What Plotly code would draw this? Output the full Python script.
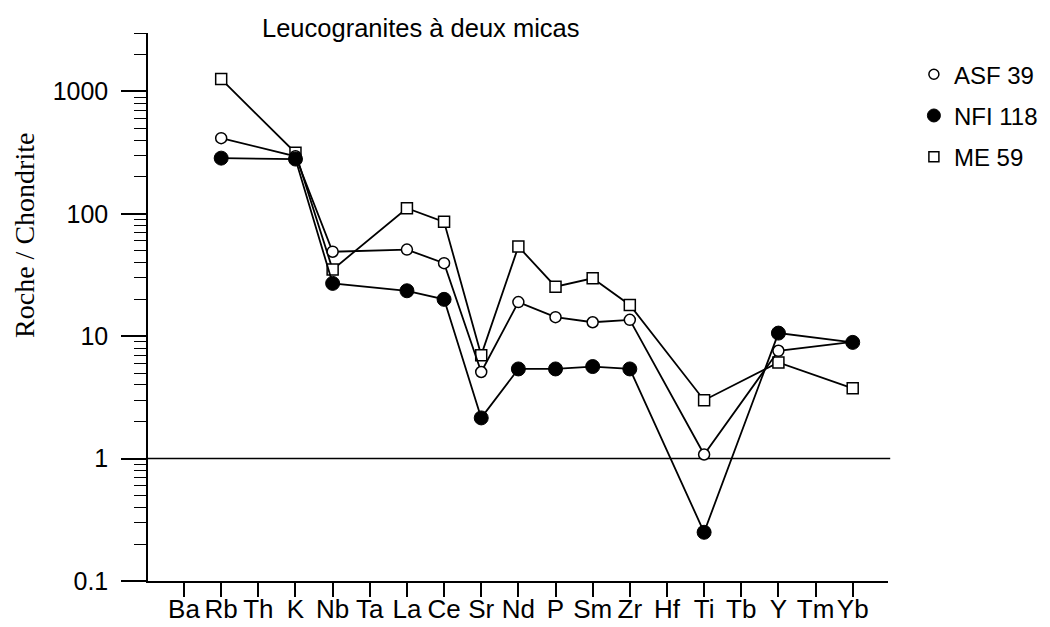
import math
import plotly.graph_objects as go

# Spider diagram: rock / chondrite normalised abundances
ELEMENTS = ["Ba", "Rb", "Th", "K", "Nb", "Ta", "La", "Ce", "Sr", "Nd",
            "P", "Sm", "Zr", "Hf", "Ti", "Tb", "Y", "Tm", "Yb"]

ASF_39 = [None, 415, None, 295, 49, None, 51, 39.5, 5.1, 19,
          14.3, 13.0, 13.6, None, 1.08, None, 7.6, None, 9.0]
NFI_118 = [None, 285, None, 280, 27, None, 23.5, 20, 2.15, 5.4,
           5.4, 5.65, 5.4, None, 0.25, None, 10.6, None, 8.9]
ME_59 = [None, 1260, None, 315, 35, None, 111, 86, 7.0, 54,
         25.4, 29.7, 18.0, None, 3.0, None, 6.1, None, 3.75]

Y_TICKS = [0.1, 1, 10, 100, 1000]
Y_TICK_TEXT = ["0.1", "1", "10", "100", "1000"]
Y_MIN = 0.1
Y_MAX = 3000
REF_LEVEL = 1  # chondritic reference level

SANS = "Liberation Sans, Arial, Helvetica, sans-serif"
SERIF = "Liberation Serif, Times New Roman, serif"

styles = {
    "ASF 39": dict(symbol="circle", size=11, color="white", line=dict(color="black", width=1.5)),
    "NFI 118": dict(symbol="circle", size=14, color="black", line=dict(color="black", width=1)),
    "ME 59": dict(symbol="square", size=11, color="white", line=dict(color="black", width=1.5)),
}
legend_sizes = {"ASF 39": 10, "NFI 118": 13, "ME 59": 10}

fig = go.Figure()

# data series (drawn so filled circles sit on top)
for name, vals in [("ME 59", ME_59), ("ASF 39", ASF_39), ("NFI 118", NFI_118)]:
    fig.add_trace(go.Scatter(
        x=ELEMENTS, y=vals, mode="lines+markers", connectgaps=True,
        line=dict(color="black", width=1.8),
        marker=styles[name], name=name, showlegend=False,
    ))

# legend entries: markers only
for name in ["ASF 39", "NFI 118", "ME 59"]:
    st = dict(styles[name])
    st["size"] = legend_sizes[name]
    fig.add_trace(go.Scatter(
        x=[None], y=[None], mode="markers", marker=st, name=name,
        legendgroup=name, showlegend=True,
    ))

# horizontal line at rock = chondrite, across the full plot width
ref_frac = (math.log10(REF_LEVEL) - math.log10(Y_MIN)) / (math.log10(Y_MAX) - math.log10(Y_MIN))
fig.add_shape(type="line", xref="paper", yref="paper",
              x0=0, x1=1.003, y0=ref_frac, y1=ref_frac,
              line=dict(color="black", width=1.5), layer="below")

fig.update_layout(
    width=1050, height=627,
    margin=dict(l=148, r=162, t=33, b=46, autoexpand=False),
    paper_bgcolor="white", plot_bgcolor="white",
    font=dict(family=SANS, color="black"),
    showlegend=True,
    legend=dict(
        x=1.035, y=0.965, xanchor="left", yanchor="top",
        font=dict(size=24, family=SANS, color="black"),
        bgcolor="rgba(0,0,0,0)", tracegroupgap=7, itemsizing="trace",
    ),
    annotations=[
        dict(text="Leucogranites à deux micas", xref="paper", yref="paper",
             x=0.369, y=1.009, xanchor="center", yanchor="middle",
             showarrow=False, font=dict(size=25.5, family=SANS)),
        dict(text="Roche / Chondrite", xref="paper", yref="paper",
             x=-0.166, y=0.63, xanchor="center", yanchor="middle",
             textangle=-90, showarrow=False, font=dict(size=28, family=SERIF)),
    ],
)

fig.update_xaxes(
    type="category", categoryorder="array", categoryarray=ELEMENTS,
    range=[-0.97, 18.95], automargin=False,
    showline=True, linecolor="black", linewidth=1.5, mirror=False,
    ticks="outside", ticklen=14, tickwidth=1.5, tickcolor="black",
    showgrid=False, zeroline=False,
    ticklabelstandoff=-10,
    tickfont=dict(size=26, family=SANS),
)

fig.update_yaxes(
    type="log", range=[math.log10(Y_MIN), math.log10(Y_MAX)], automargin=False,
    tickmode="array", tickvals=Y_TICKS, ticktext=Y_TICK_TEXT,
    showline=True, linecolor="black", linewidth=1.5,
    ticks="outside", ticklen=25, tickwidth=1.5, tickcolor="black",
    minor=dict(ticks="outside", ticklen=12, tickwidth=1.2, tickcolor="black",
               dtick="D1", showgrid=False),
    showgrid=False, zeroline=False,
    ticklabelstandoff=8,
    tickfont=dict(size=25, family=SANS),
)

fig.write_html("out.html")
